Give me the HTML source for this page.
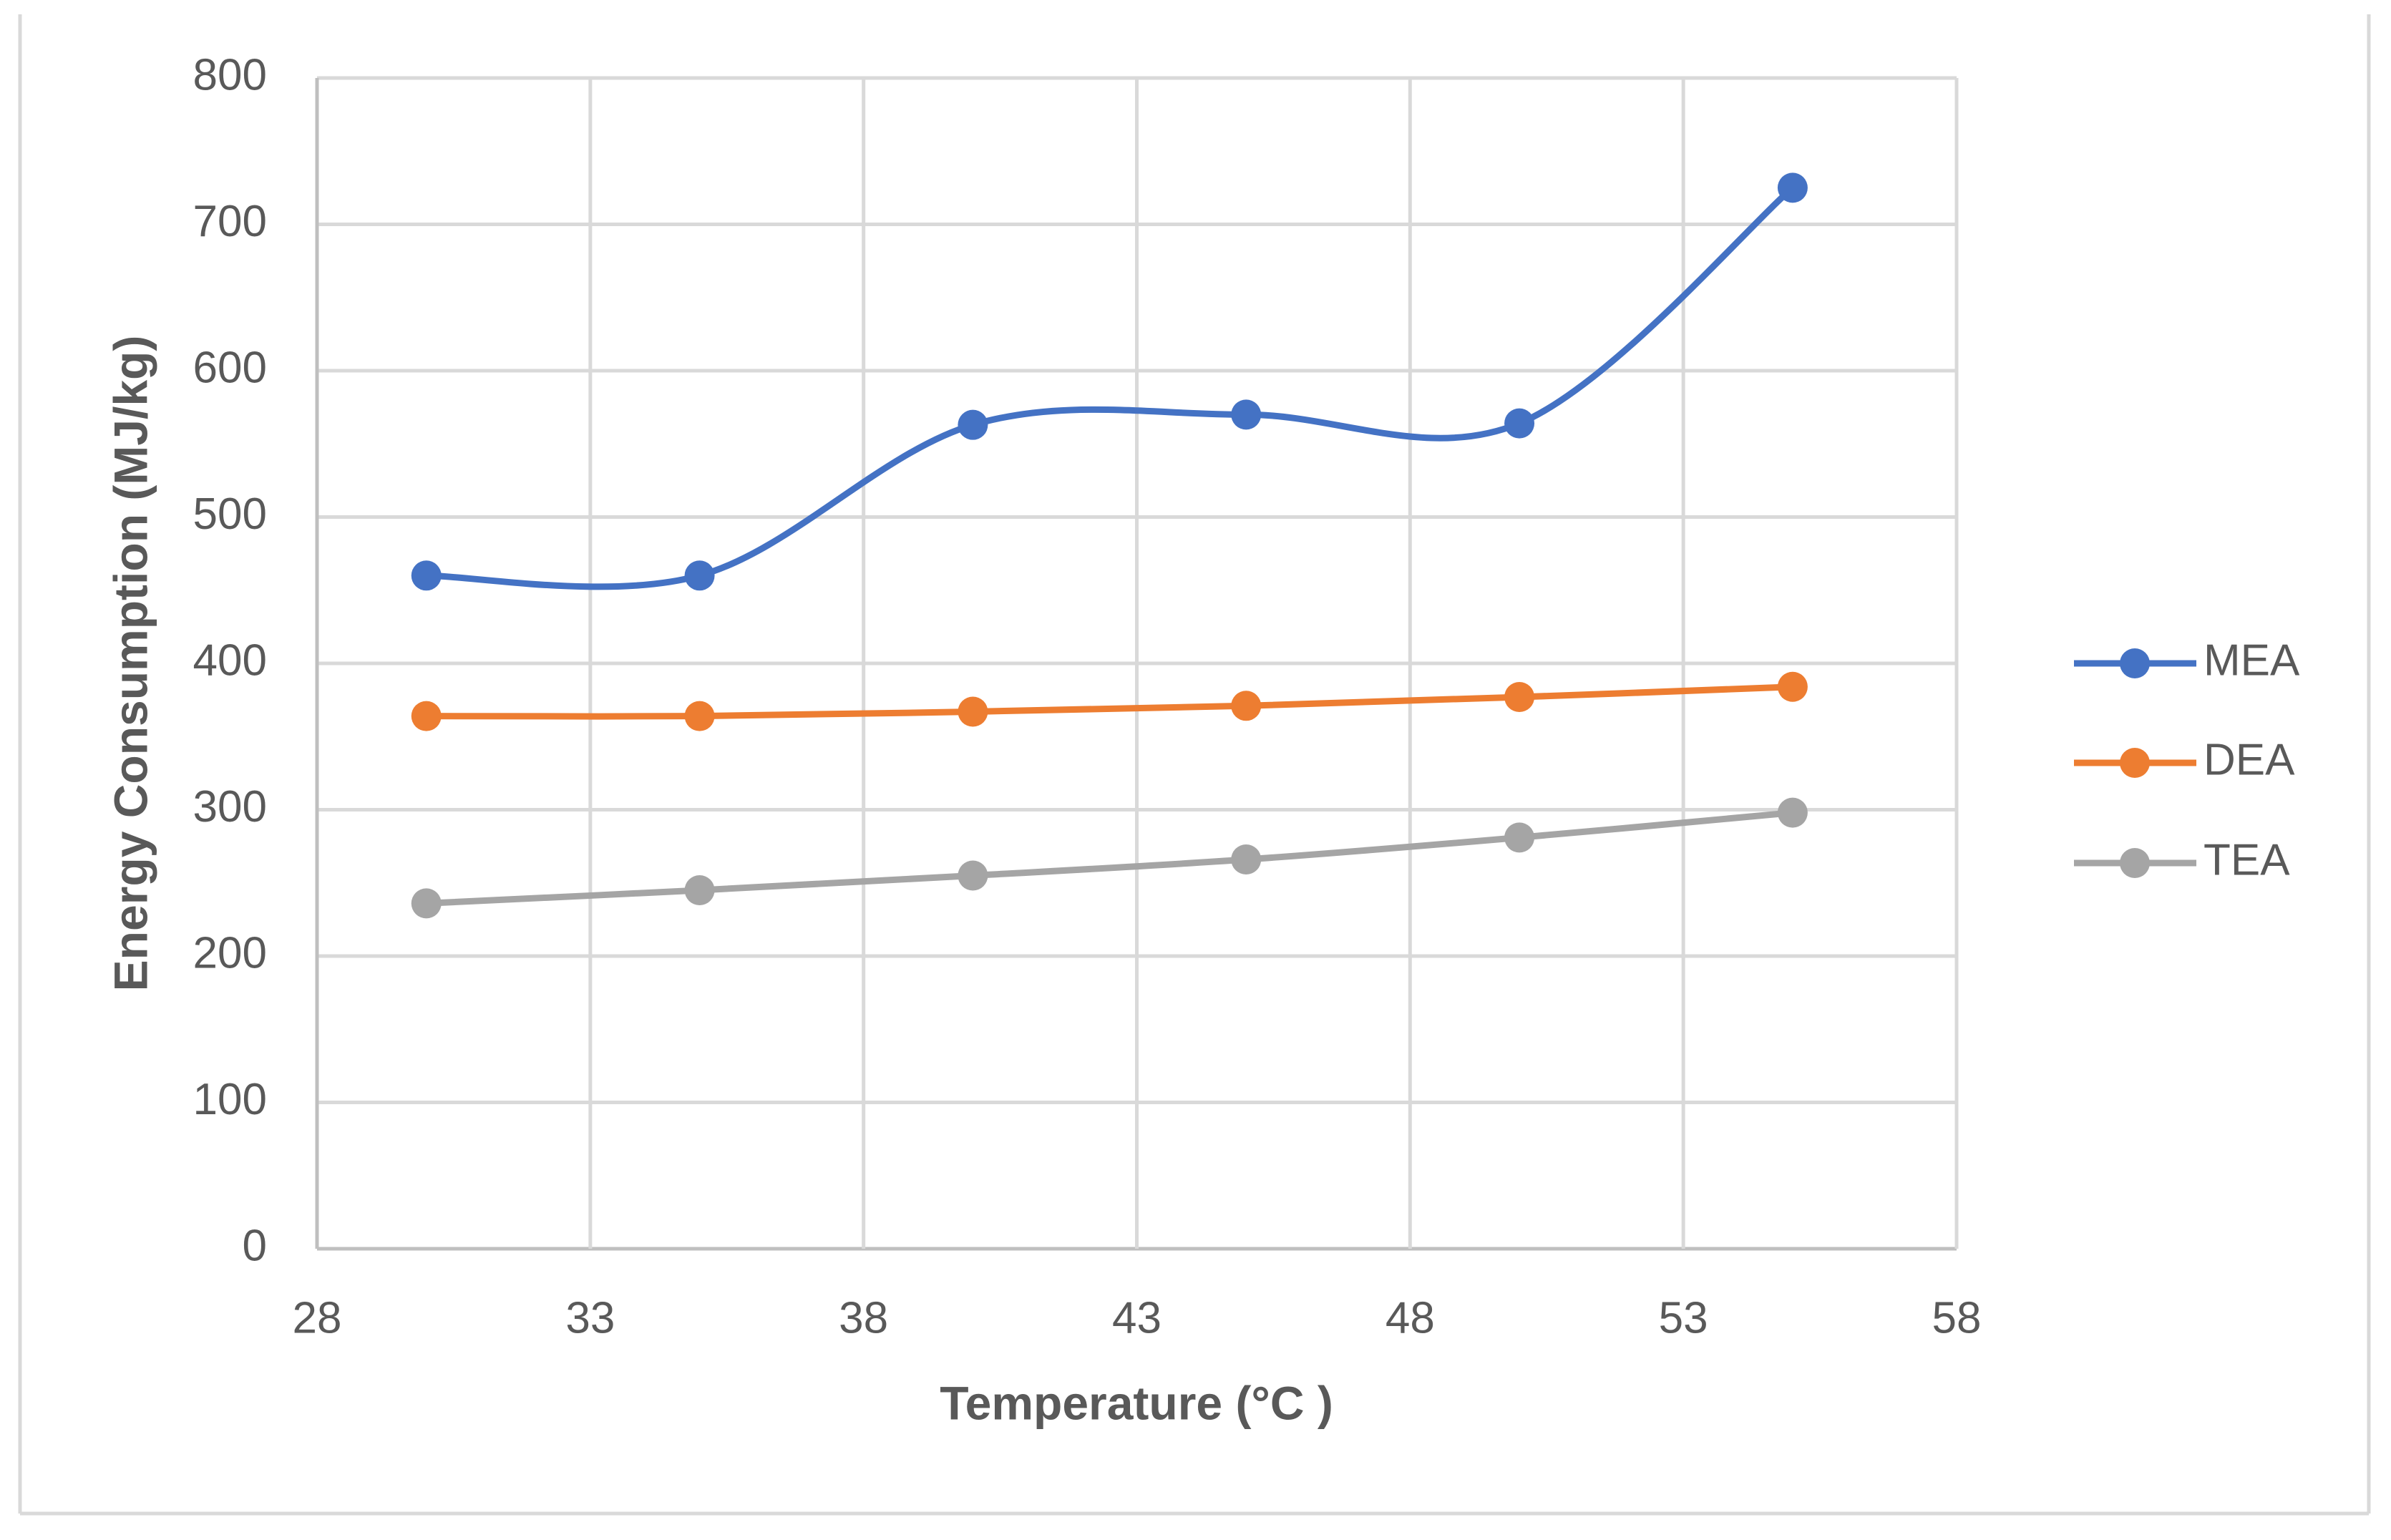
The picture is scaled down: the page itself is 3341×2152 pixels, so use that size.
<!DOCTYPE html>
<html><head><meta charset="utf-8"><style>
html,body{margin:0;padding:0;background:#fff;}
svg{display:block;}
text{font-family:"Liberation Sans",sans-serif;fill:#595959;}
</style></head><body>
<svg id="chart" width="3341" height="2152" viewBox="0 0 3341 2152">
<g id="frame">
<line x1="28" y1="20" x2="28" y2="2115" stroke="#d9d9d9" stroke-width="5"/>
<line x1="3310" y1="20" x2="3310" y2="2115" stroke="#d9d9d9" stroke-width="5"/>
<line x1="28" y1="2115" x2="3310" y2="2115" stroke="#d9d9d9" stroke-width="5"/>
</g>
<g id="grid"></g>
<g id="axes"></g>
<g id="series"></g>
<text x="188" y="927" font-size="66" font-weight="bold" text-anchor="middle" dominant-baseline="middle" transform="rotate(-90 188 927)">Energy Consumption (MJ/kg)</text>
<text x="1588" y="1966" font-size="66" font-weight="bold" text-anchor="middle" dominant-baseline="middle">Temperature (°C )</text>
<g id="legend"></g>
</svg>
<script>
const temps = [30, 35, 40, 45, 50, 55];
const meaValues = [460, 460, 563, 570, 564, 725];
const deaValues = [364, 364, 367, 371, 377, 384];
const teaValues = [236, 245, 255, 266, 281, 298];
const seriesNames = ["MEA", "DEA", "TEA"];
const xTicks = [28, 33, 38, 43, 48, 53, 58];
const yTicks = [0, 100, 200, 300, 400, 500, 600, 700, 800];

const NS = "http://www.w3.org/2000/svg";
const L = 443, R = 2734, T = 109, B = 1745;
const xMin = 28, xMax = 58, yMin = 0, yMax = 800;
const xs = v => L + (v - xMin) / (xMax - xMin) * (R - L);
const ys = v => B - (v - yMin) / (yMax - yMin) * (B - T);
function mk(tag, attrs, parent) {
  const e = document.createElementNS(NS, tag);
  for (const k in attrs) e.setAttribute(k, attrs[k]);
  parent.appendChild(e);
  return e;
}
const grid = document.getElementById('grid');
const axes = document.getElementById('axes');
yTicks.forEach(t => {
  const ln = mk('line', {x1: L, x2: R, y1: ys(t), y2: ys(t), stroke: t === 0 ? '#bfbfbf' : '#d9d9d9', 'stroke-width': 5}, grid);
  
  
  const tx = mk('text', {x: 373, y: ys(t), 'font-size': 62, 'text-anchor': 'end', 'dominant-baseline': 'middle'}, axes);
  tx.textContent = t;
  
  
});
xTicks.forEach(t => {
  const ln = mk('line', {x1: xs(t), x2: xs(t), y1: T, y2: B, stroke: t === xMin ? '#bfbfbf' : '#d9d9d9', 'stroke-width': 5}, grid);
  
  
  const tx = mk('text', {x: xs(t), y: 1846, 'font-size': 62, 'text-anchor': 'middle', 'dominant-baseline': 'middle'}, axes);
  tx.textContent = t;
  
  
});
function smoothPath(pts) {
  let d = `M${pts[0][0]},${pts[0][1]}`;
  for (let i = 0; i < pts.length - 1; i++) {
    const p0 = pts[i - 1] || pts[i], p1 = pts[i], p2 = pts[i + 1], p3 = pts[i + 2] || p2;
    const k = 1 / 6;
    const c1 = [p1[0] + (p2[0] - p0[0]) * k, p1[1] + (p2[1] - p0[1]) * k];
    const c2 = [p2[0] - (p3[0] - p1[0]) * k, p2[1] - (p3[1] - p1[1]) * k];
    d += ` C${c1[0]},${c1[1]} ${c2[0]},${c2[1]} ${p2[0]},${p2[1]}`;
  }
  return d;
}
const colors = ['#4472c4', '#ed7d31', '#a5a5a5'];
const allVals = [meaValues, deaValues, teaValues];
const sg = document.getElementById('series');
allVals.forEach((vals, si) => {
  const pts = temps.map((t, i) => [xs(t), ys(vals[i])]);
  const p = mk('path', {d: smoothPath(pts), fill: 'none', stroke: colors[si], 'stroke-width': 9, 'stroke-linejoin': 'round'}, sg);
  
  
  pts.forEach(pt => {
    const c = mk('circle', {cx: pt[0], cy: pt[1], r: 21, fill: colors[si]}, sg);
    
    
  });
});
const lg = document.getElementById('legend');
const legY = [927, 1066, 1206];
seriesNames.forEach((n, i) => {
  const ln = mk('line', {x1: 2898, x2: 3069, y1: legY[i], y2: legY[i], stroke: colors[i], 'stroke-width': 9}, lg);
  
  
  const c = mk('circle', {cx: 2983, cy: legY[i], r: 21, fill: colors[i]}, lg);
  
  
  const tx = mk('text', {x: 3079, y: legY[i], 'font-size': 62, 'dominant-baseline': 'middle'}, lg);
  tx.textContent = n;
  
  
});
</script>
</body></html>
